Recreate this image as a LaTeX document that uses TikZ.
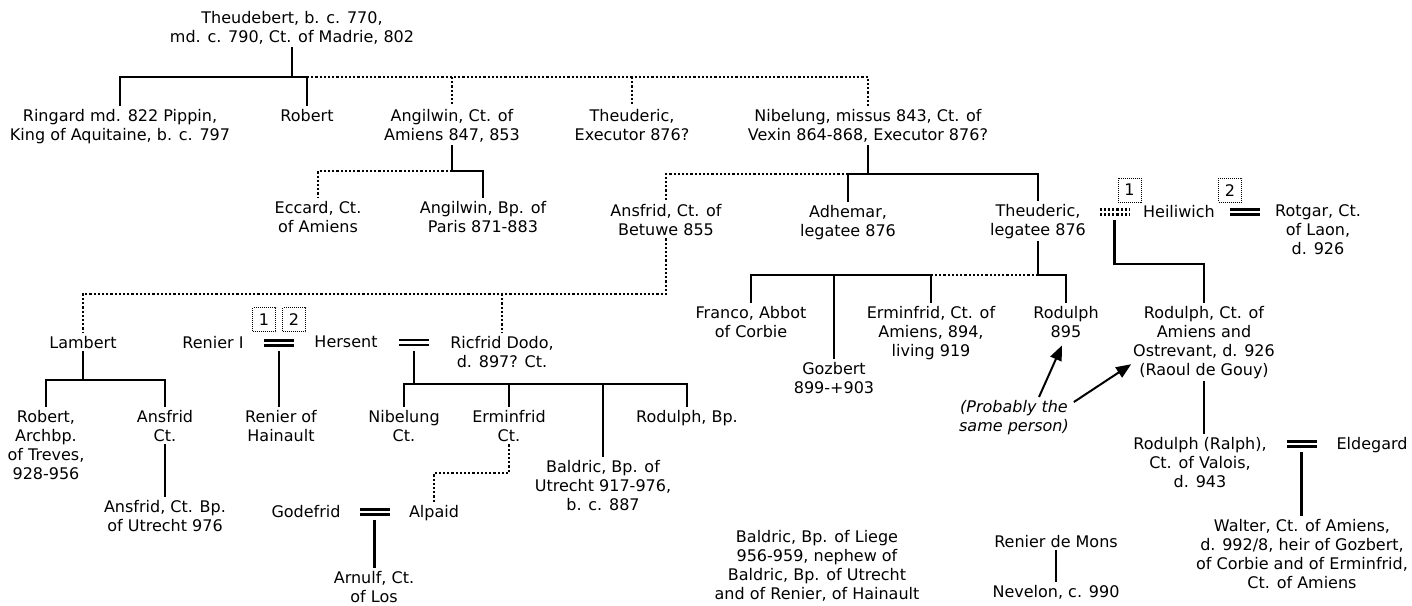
\documentclass[tikz,border=0pt]{standalone}
\usepackage{fontspec}
\setmainfont{DejaVu Sans}
\usepackage{tikz}
\usetikzlibrary{calc,arrows.meta,positioning}

\begin{document}
\begin{tikzpicture}[x=1pt,y=-1pt,
        every node/.style={font=\fontsize{16}{19}\selectfont},
        person/.style={align=center,anchor=north,inner xsep=2pt,inner ysep=3pt,outer sep=0pt},
        sol/.style={line width=2.7pt},
        dot/.style={line width=2.7pt,dash pattern=on 2.2pt off 2pt},
        marry/.style={double,line width=2.5pt,double distance=2.4pt},
        numbox/.style={draw,line width=1pt,dash pattern=on 1pt off 1pt,minimum width=23pt,minimum height=24pt,inner sep=0pt}]
        \useasboundingbox (0,0) rectangle (1412,605);

        % first generations
        \node[person] (theu) at (292,8) {Theudebert, b. c. 770,\\md. c. 790, Ct. of Madrie, 802};
        \node[person] (ringard) at (120,106) {Ringard md. 822 Pippin,\\King of Aquitaine, b. c. 797};
        \node[person] (robert) at (307,106) {Robert};
        \node[person] (angil) at (452,106) {Angilwin, Ct. of\\Amiens 847, 853};
        \node[person] (theud1) at (632,106) {Theuderic,\\Executor 876?};
        \node[person] (nibel) at (868,106) {Nibelung, missus 843, Ct. of\\Vexin 864-868, Executor 876?};

        \node[person] (eccard) at (318,198) {Eccard, Ct.\\of Amiens};
        \node[person] (angilbp) at (483,198) {Angilwin, Bp. of\\Paris 871-883};
        \node[person] (ansfrid) at (666,201) {Ansfrid, Ct. of\\Betuwe 855};
        \node[person] (adhemar) at (848,202) {Adhemar,\\legatee 876};
        \node[person] (theud2) at (1038,201) {Theuderic,\\legatee 876};
        \node[person] (heil) at (1179,202) {Heiliwich};
        \node[person] (rotgar) at (1318,202) {Rotgar, Ct.\\of Laon,\\d. 926};

        \node[person] (franco) at (751,303) {Franco, Abbot\\of Corbie};
        \node[person] (gozbert) at (834,359) {Gozbert\\899-+903};
        \node[person] (erminf1) at (931,303) {Erminfrid, Ct. of\\Amiens, 894,\\living 919};
        \node[person] (rod895) at (1066,303) {Rodulph\\895};
        \node[person] (rodamiens) at (1204,303) {Rodulph, Ct. of\\Amiens and\\Ostrevant, d. 926\\(Raoul de Gouy)};
        \node[person,font=\fontsize{16}{19}\selectfont\itshape] (note) at (1014,397) {(Probably the\\same person)};
        \node[person] (rodralph) at (1200,434) {Rodulph (Ralph),\\Ct. of Valois,\\d. 943};
        \node[person] (eldegard) at (1372,434) {Eldegard};
        \node[person] (walter) at (1302,516) {Walter, Ct. of Amiens,\\d. 992/8, heir of Gozbert,\\of Corbie and of Erminfrid,\\Ct. of Amiens};

        % Betuwe line
        \node[person] (lambert) at (83,333) {Lambert};
        \node[person] (renier1) at (213,333) {Renier I};
        \node[person] (hersent) at (346,333) {Hersent};
        \node[person] (ricfrid) at (502,333) {Ricfrid Dodo,\\d. 897? Ct.};
        \node[person] (robert2) at (46,407) {Robert,\\Archbp.\\of Treves,\\928-956};
        \node[person] (ansfrid2) at (165,407) {Ansfrid\\Ct.};
        \node[person] (ansfrid3) at (165,497) {Ansfrid, Ct. Bp.\\of Utrecht 976};
        \node[person] (renierh) at (281,407) {Renier of\\Hainault};
        \node[person] (nibel2) at (404,407) {Nibelung\\Ct.};
        \node[person] (erminf2) at (509,407) {Erminfrid\\Ct.};
        \node[person] (baldric1) at (603,457) {Baldric, Bp. of\\Utrecht 917-976,\\b. c. 887};
        \node[person] (rodbp) at (687,407) {Rodulph, Bp.};
        \node[person] (godefrid) at (306,502) {Godefrid};
        \node[person] (alpaid) at (434,502) {Alpaid};
        \node[person] (arnulf) at (374,568) {Arnulf, Ct.\\of Los};

        \node[person] (baldric2) at (817,527) {Baldric, Bp. of Liege\\956-959, nephew of\\Baldric, Bp. of Utrecht\\and of Renier, of Hainault};
        \node[person] (reniermons) at (1056,532) {Renier de Mons};
        \node[person] (nevelon) at (1056,582) {Nevelon, c. 990};

        % bar levels
        \coordinate (b0) at (0,77);
        \coordinate (b1) at (0,171);
        \coordinate (b2) at (0,174);
        \coordinate (b3) at (0,275);
        \coordinate (b4) at (0,264);
        \coordinate (b5) at (0,294);
        \coordinate (b6) at (0,380);
        \coordinate (b7) at (0,384);
        \coordinate (b8) at (0,473);

        % marriages
        \coordinate (m1) at ($(renier1.base east)!.5!(hersent.base west)+(0,-5)$);
        \coordinate (m2) at ($(hersent.base east)!.5!(ricfrid.west |- hersent.base)+(0,-5)$);
        \coordinate (m3) at ($(theud2.east |- heil.base)!.5!(heil.base west)+(0,-5)$);
        \coordinate (m4) at ($(heil.base east)!.5!(rotgar.west |- heil.base)+(0,-5)$);
        \coordinate (m5) at ($(rodralph.east |- eldegard.base)!.5!(eldegard.base west)+(0,-5)$);
        \coordinate (m6) at ($(godefrid.base east)!.5!(alpaid.base west)+(0,-5)$);
        \draw[marry] ([xshift=-15pt]m1) -- ([xshift=15pt]m1);
        \draw[marry] ([xshift=-15pt]m2) -- ([xshift=15pt]m2);
        \draw[marry,dash pattern=on 2.2pt off 2pt] ([xshift=-15pt]m3) -- ([xshift=15pt]m3);
        \draw[marry] ([xshift=-15pt]m4) -- ([xshift=15pt]m4);
        \draw[marry] ([xshift=-15pt]m5) -- ([xshift=15pt]m5);
        \draw[marry] ([xshift=-15pt]m6) -- ([xshift=15pt]m6);
        \node[numbox] (n1a) at ([shift={(-15,-23)}]m1) {1};
        \node[numbox] (n1b) at ([shift={(15,-23)}]m1) {2};
        \node[numbox] (n3) at ([shift={(15,-22)}]m3) {1};
        \node[numbox] (n4) at ([shift={(-15,-22)}]m4) {2};

        % Theudebert
        \draw[sol] (theu.south) -- (theu.south |- b0) -| (ringard.north);
        \draw[sol] (theu.south |- b0) -| (robert.north);
        \draw[dot] (robert.north |- b0) -| (nibel.north);
        \draw[dot] (angil.north |- b0) -- (angil.north);
        \draw[dot] (theud1.north |- b0) -- (theud1.north);

        % Angilwin
        \draw[sol] (angil.south) -- (angil.south |- b1) -| (angilbp.north);
        \draw[dot] (angil.south |- b1) -| (eccard.north);

        % Nibelung
        \draw[sol] (nibel.south) -- (nibel.south |- b2);
        \draw[sol] (adhemar.north) -- (adhemar.north |- b2) -| (theud2.north);
        \draw[dot] (adhemar.north |- b2) -| (ansfrid.north);

        % Theuderic
        \draw[sol] (theud2.south) -- (theud2.south |- b3) -| (rod895.north);
        \draw[dot] (theud2.south |- b3) -- (erminf1.north |- b3);
        \draw[sol] (erminf1.north) -- (erminf1.north |- b3) -| (franco.north);
        \draw[sol] (gozbert.north |- b3) -- (gozbert.north);

        % Heiliwich
        \draw[sol] ([yshift=-8pt]m3) -- (m3 |- b4) -| (rodamiens.north);
        \draw[sol] (rodamiens.south) -- (rodamiens.south |- rodralph.north);
        \draw[sol] ([yshift=-8pt]m5) -- (m5 |- walter.north);

        \draw[-{Triangle[length=15pt,width=12pt]},line width=2pt] ([xshift=25pt]note.north) -- ([shift={(-4,5)}]rod895.south);
        \draw[-{Triangle[length=15pt,width=12pt]},line width=2pt] ([shift={(3,5)}]note.north east) -- ([yshift=-22pt]rodamiens.west);

        % Ansfrid of Betuwe
        \draw[dot] (ansfrid.south) -- (ansfrid.south |- b5) -| (lambert.north);
        \draw[dot] (ricfrid.north |- b5) -- (ricfrid.north);
        \draw[sol] (lambert.south) -- (lambert.south |- b6) -| (robert2.north);
        \draw[sol] (lambert.south |- b6) -| (ansfrid2.north);
        \draw[sol] (ansfrid2.south) -- (ansfrid3.north);
        \draw[sol] ([yshift=-8pt]m1) -- (m1 |- renierh.north);
        \draw[sol] ([yshift=-8pt]m2) -- (m2 |- b7);
        \draw[sol] (nibel2.north) -- (nibel2.north |- b7) -| (rodbp.north);
        \draw[sol] (erminf2.north |- b7) -- (erminf2.north);
        \draw[sol] (baldric1.north |- b7) -- (baldric1.north);
        \draw[dot] (erminf2.south) -- (erminf2.south |- b8) -| (alpaid.north);
        \draw[sol] ([yshift=-8pt]m6) -- (m6 |- arnulf.north);

        \draw[sol] (reniermons.south) -- (nevelon.north);
\end{tikzpicture}
\end{document}
